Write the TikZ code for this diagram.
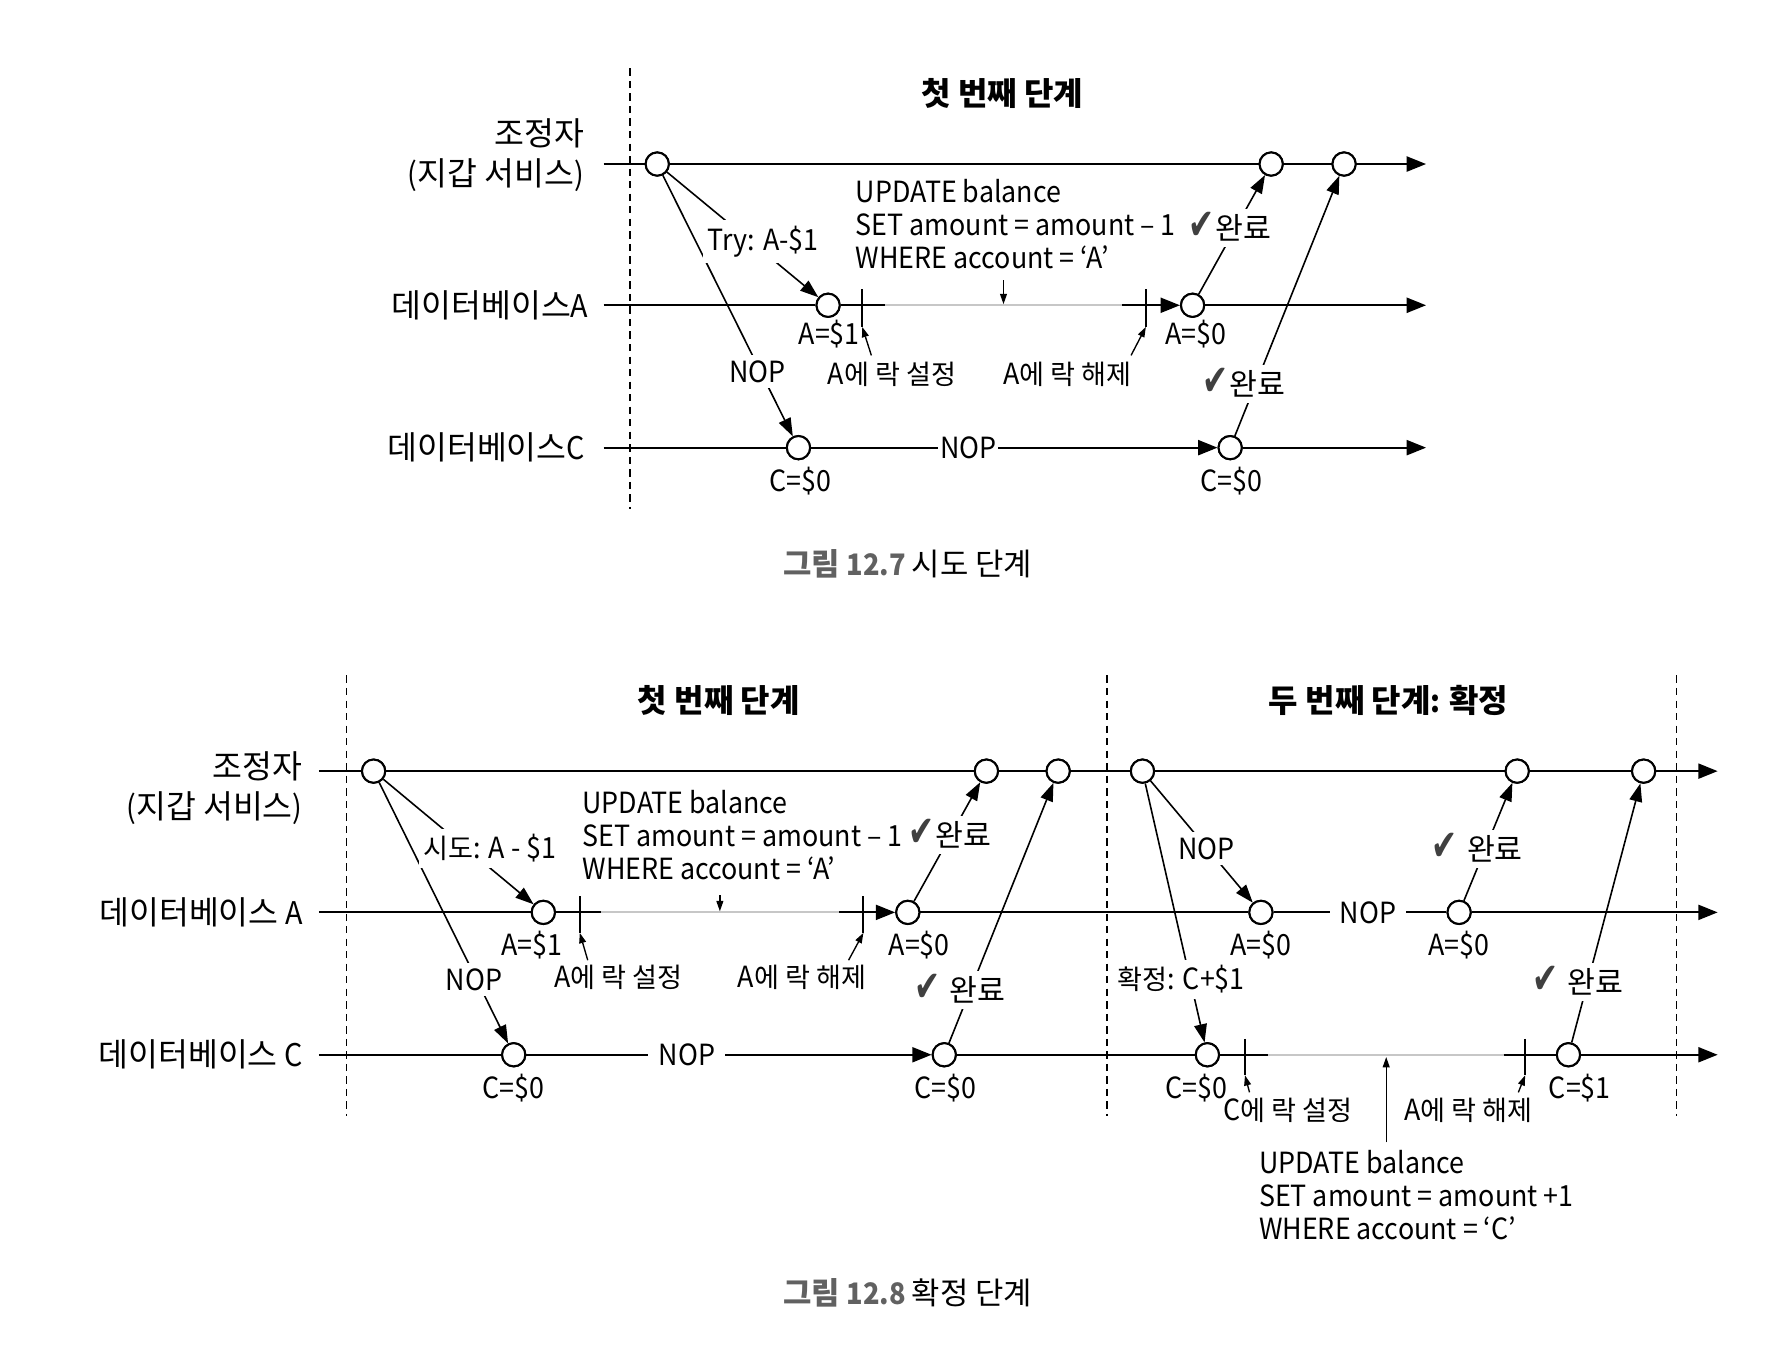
\documentclass[tikz,border=0pt]{standalone}
\usepackage{fontspec}
\setmainfont{Noto Sans CJK KR}[FakeStretch=0.92]
\newfontfamily\kr{Noto Sans CJK KR}[Scale=1.04]
\newfontfamily\krs{Noto Sans CJK KR}[Scale=0.93]
\newfontfamily\symf{DejaVu Sans}
\usetikzlibrary{arrows.meta}
\newcommand\K[1]{{\kr #1}}
\newcommand\Ks[1]{{\krs #1}}
\newcommand\fsz{\fontsize{12.8}{14.5}\selectfont}
\newcommand\ck{\smash{\symf\fontsize{19}{12}\selectfont\color{black!75}\scalebox{0.72}[1]{✔}}}
\begin{document}
\begin{tikzpicture}[x=0.5pt,y=-0.5pt,
  every node/.style={font=\fsz, inner sep=0pt},
  tl/.style={line width=0.9pt, black},
  tipd/.style={-{Triangle[length=8.5pt,width=6.6pt]}},
  greyl/.style={line width=0.9pt, black!22},
  dsh/.style={line width=0.65pt, dash pattern=on 3.2pt off 2.3pt},
  ev/.style={circle, draw, line width=0.9pt, fill=white, minimum size=10.2pt, inner sep=0pt},
  msg/.style={line width=0.7pt, -{Triangle[length=8pt,width=5.6pt]}},
  sm/.style={line width=0.6pt, -{Triangle[length=4.5pt,width=3pt]}},
  lbl/.style={fill=white, inner xsep=2pt, inner ysep=2.5pt},
  ttl/.style={font=\fontsize{13.5}{16}\selectfont\bfseries},
  capt/.style={font=\fontsize{13}{16}\selectfont},
  upd/.style={anchor=west, align=left, font=\fsz},
  dbl/.style={anchor=east, font=\fontsize{13.7}{16}\selectfont},
  who/.style={anchor=east, align=right, font=\fontsize{13.7}{17.5}\selectfont}
]
\useasboundingbox (0,0) rectangle (1568,1180);

%% ================= TOP FIGURE =================
\coordinate (td1) at (553,60); \coordinate (td2) at (553,447);
\draw[dsh] (td1) -- (td2);
\node[ttl] (t1) at (880,82) {\K{첫 번째 단계}};

\node[who] (wk) at (513,136) {\K{조정자}\\(\K{지갑 서비스})};
\node[dbl] (wa) at (517,268) {\K{데이터베이스}A};
\node[dbl] (wc) at (514,393) {\K{데이터베이스}C};

\coordinate (ks) at (530,144); \coordinate (ke) at (1252,144);
\coordinate (as) at (530,268); \coordinate (ae) at (1252,268);
\coordinate (cs) at (530,393); \coordinate (ce) at (1252,393);
\draw[tl,tipd] (ks) -- (ke);

\node[ev] (k1) at (577,144) {};
\node[ev] (k2) at (1116,144) {};
\node[ev] (k3) at (1180,144) {};
\node[ev] (a1) at (727,268) {};
\node[ev] (a2) at (1047,268) {};
\node[ev] (c1) at (701,393) {};
\node[ev] (c2) at (1080,393) {};

\coordinate (ag1) at (777,268); \coordinate (ag2) at (985,268);
\draw[tl] (as) -- (a1);
\draw[tl] (a1) -- (ag1);
\draw[greyl] (ag1) -- (ag2);
\draw[tl,tipd] (ag2) -- (a2);
\draw[tl,tipd] (a2) -- (ae);
\coordinate (at1t) at (757,254); \coordinate (at1b) at (757,287);
\coordinate (at2t) at (1006,254); \coordinate (at2b) at (1006,287);
\draw[tl] (at1t) -- (at1b);
\draw[tl] (at2t) -- (at2b);

\draw[tl] (cs) -- (c1);
\draw[tl,tipd] (c1) -- (c2);
\draw[tl,tipd] (c2) -- (ce);
\node[fill=white, inner xsep=0.8pt, inner ysep=2pt] (nop1) at (850,393) {NOP};

\node[ev] at (k1) {}; \node[ev] at (k2) {}; \node[ev] at (k3) {};
\node[ev] at (a1) {}; \node[ev] at (a2) {};
\node[ev] at (c1) {}; \node[ev] at (c2) {};

\draw[msg] (k1) -- (a1);
\draw[msg] (k1) -- (c1);
\draw[msg] (a2) -- (k2);
\draw[msg] (c2) -- (k3);
\node[lbl] (m1) at (670,212) {Try: A-\$1};
\node[lbl] (m2) at (665,326) {NOP};
\node[lbl] (m3) at (1080,200) {\ck\kern0.5pt\K{완료}};
\node[lbl] (m4) at (1092,337) {\ck\kern0.5pt\K{완료}};

\node (sa1) at (728,293) {A=\$1};
\node (sa2) at (1050,293) {A=\$0};
\node (sc1) at (703,422) {C=\$0};
\node (sc2) at (1081,422) {C=\$0};

\node (l1) at (783,329) {A\Ks{에 락 설정}};
\node (l2) at (937,329) {A\Ks{에 락 해제}};
\coordinate (l1p) at (765,312); \coordinate (l2p) at (993,312);
\draw[sm] (l1p) -- (at1b);
\draw[sm] (l2p) -- (at2b);

\node[upd] (u1) at (751,197) {UPDATE balance\\SET amount = amount – 1\\WHERE account = ‘A’};
\coordinate (u1a) at (881,246); \coordinate (u1b) at (881,267);
\draw[sm] (u1a) -- (u1b);

\node[capt] (cap1) at (797,495) {{\bfseries\color{black!62}\K{그림} 12.7} \K{시도 단계}};

%% ================= BOTTOM FIGURE =================
\coordinate (bd1) at (304,593); \coordinate (bd2) at (304,980);
\coordinate (bd3) at (972,593); \coordinate (bd4) at (972,980);
\coordinate (bd5) at (1472,593); \coordinate (bd6) at (1472,980);
\draw[dsh] (bd1) -- (bd2);
\draw[dsh] (bd3) -- (bd4);
\draw[dsh] (bd5) -- (bd6);
\node[ttl] (t2) at (631,615) {\K{첫 번째 단계}};
\node[ttl] (t3) at (1219,615) {\K{두 번째 단계}: \K{확정}};

\node[who] (bwk) at (266,692) {\K{조정자}\\(\K{지갑 서비스})};
\node[dbl] (bwa) at (266,801) {\K{데이터베이스} A};
\node[dbl] (bwc) at (266,926) {\K{데이터베이스} C};

\coordinate (Ks) at (280,677); \coordinate (Ke) at (1508,677);
\coordinate (As) at (280,801); \coordinate (Ae) at (1508,801);
\coordinate (Cs) at (280,926); \coordinate (Ce) at (1508,926);
\draw[tl,tipd] (Ks) -- (Ke);

\node[ev] (K1) at (328,677) {};
\node[ev] (K2) at (866,677) {};
\node[ev] (K3) at (929,677) {};
\node[ev] (K4) at (1003,677) {};
\node[ev] (K5) at (1332,677) {};
\node[ev] (K6) at (1443,677) {};
\node[ev] (A1) at (477,801) {};
\node[ev] (A2) at (797,801) {};
\node[ev] (A3) at (1107,801) {};
\node[ev] (A4) at (1281,801) {};
\node[ev] (C1) at (451,926) {};
\node[ev] (C2) at (829,926) {};
\node[ev] (C3) at (1060,926) {};
\node[ev] (C4) at (1377,926) {};

\coordinate (Ag1) at (528,801); \coordinate (Ag2) at (737,801);
\draw[tl] (As) -- (A1);
\draw[tl] (A1) -- (Ag1);
\draw[greyl] (Ag1) -- (Ag2);
\draw[tl,tipd] (Ag2) -- (A2);
\draw[tl] (A2) -- (A3);
\draw[tl] (A3) -- (A4);
\draw[tl,tipd] (A4) -- (Ae);
\node[fill=white, inner xsep=4.5pt, inner ysep=2pt] (nop3) at (1201,801) {NOP};
\coordinate (At1t) at (509,787); \coordinate (At1b) at (509,819);
\coordinate (At2t) at (758,787); \coordinate (At2b) at (758,819);
\draw[tl] (At1t) -- (At1b);
\draw[tl] (At2t) -- (At2b);

\coordinate (Cg1) at (1113,926); \coordinate (Cg2) at (1320,926);
\draw[tl] (Cs) -- (C1);
\draw[tl,tipd] (C1) -- (C2);
\draw[tl] (C2) -- (C3);
\draw[tl] (C3) -- (Cg1);
\draw[greyl] (Cg1) -- (Cg2);
\draw[tl] (Cg2) -- (C4);
\draw[tl,tipd] (C4) -- (Ce);
\node[fill=white, inner xsep=4.5pt, inner ysep=2pt] (nop2) at (603,926) {NOP};
\coordinate (Ct1t) at (1093,912); \coordinate (Ct1b) at (1093,944);
\coordinate (Ct2t) at (1339,912); \coordinate (Ct2b) at (1339,944);
\draw[tl] (Ct1t) -- (Ct1b);
\draw[tl] (Ct2t) -- (Ct2b);

\foreach \n in {K1,K2,K3,K4,K5,K6,A1,A2,A3,A4,C1,C2,C3,C4} {\node[ev] at (\n) {};}

\draw[msg] (K1) -- (A1);
\draw[msg] (K1) -- (C1);
\draw[msg] (A2) -- (K2);
\draw[msg] (C2) -- (K3);
\draw[msg] (K4) -- (A3);
\draw[msg] (K4) -- (C3);
\draw[msg] (A4) -- (K5);
\draw[msg] (C4) -- (K6);
\node[lbl] (M1) at (430,745) {\Ks{시도}: A - \$1};
\node[lbl] (M2) at (416,860) {NOP};
\node[lbl] (M3) at (834,733) {\ck\kern0.5pt\K{완료}};
\node[lbl] (M4) at (843,869) {\ck\kern4pt\K{완료}};
\node[lbl] (M5) at (1059,745) {NOP};
\node[lbl] (M6) at (1037,860) {\Ks{확정}: C+\$1};
\node[lbl] (M7) at (1297,745) {\ck\kern4pt\K{완료}};
\node[lbl] (M8) at (1385,862) {\ck\kern4pt\K{완료}};

\node (SA1) at (467,830) {A=\$1};
\node (SA2) at (807,830) {A=\$0};
\node (SA3) at (1107,830) {A=\$0};
\node (SA4) at (1281,830) {A=\$0};
\node (SC1) at (451,955) {C=\$0};
\node (SC2) at (830,955) {C=\$0};
\node (SC3) at (1050,955) {C=\$0};
\node (SC4) at (1387,955) {C=\$1};

\node (L1) at (543,858) {A\Ks{에 락 설정}};
\node (L2) at (704,858) {A\Ks{에 락 해제}};
\node (L3) at (1131,975) {C\Ks{에 락 설정}};
\node (L4) at (1289,975) {A\Ks{에 락 해제}};
\coordinate (L1p) at (516,843); \coordinate (L2p) at (745,843);
\coordinate (L3p) at (1097,959); \coordinate (L4p) at (1333,959);
\draw[sm] (L1p) -- (At1b);
\draw[sm] (L2p) -- (At2b);
\draw[sm] (L3p) -- (Ct1b);
\draw[sm] (L4p) -- (Ct2b);

\node[upd] (U1) at (511,733) {UPDATE balance\\SET amount = amount – 1\\WHERE account = ‘A’};
\coordinate (U1a) at (632,786); \coordinate (U1b) at (632,800);
\draw[sm] (U1a) -- (U1b);

\node[upd] (U2) at (1105,1049) {UPDATE balance\\SET amount = amount +1\\WHERE account = ‘C’};
\coordinate (U2a) at (1217,1003); \coordinate (U2b) at (1217,928);
\draw[sm] (U2a) -- (U2b);

\node[capt] (cap2) at (797,1135) {{\bfseries\color{black!62}\K{그림} 12.8} \K{확정 단계}};
\end{tikzpicture}
\end{document}
